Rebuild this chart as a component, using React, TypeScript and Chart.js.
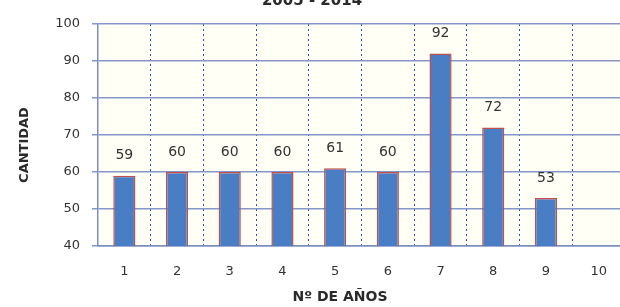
import React, { useEffect, useRef } from "react";
import { Chart, registerables } from "chart.js";

Chart.register(...registerables);

const categories = ["1", "2", "3", "4", "5", "6", "7", "8", "9", "10"];
const values: (number | null)[] = [59, 60, 60, 60, 61, 60, 92, 72, 53, null];
const yTicks = [40, 50, 60, 70, 80, 90, 100];
const titleText = "2005 - 2014";
const xTitle = "Nº DE AÑOS";
const yTitle = "CANTIDAD";

const FONT = "'DejaVu Sans', sans-serif";

const decor = {
  id: "decor",
  beforeDraw(chart: any) {
    const { ctx, chartArea } = chart;
    ctx.save();
    ctx.fillStyle = "#fffff6";
    ctx.fillRect(chartArea.left, chartArea.top, chartArea.right - chartArea.left, chartArea.bottom - chartArea.top);
    ctx.restore();
  },
  afterDraw(chart: any) {
    const { ctx } = chart;
    ctx.save();
    ctx.fillStyle = "#2a2a2a";
    ctx.textAlign = "center";
    ctx.textBaseline = "middle";
    ctx.font = `bold 15px ${FONT}`;
    ctx.fillText(titleText, 312, 1);
    ctx.font = `bold 14px ${FONT}`;
    ctx.fillText(xTitle, 340, 297);
    ctx.font = `bold 13px ${FONT}`;
    ctx.translate(25, 145);
    ctx.rotate(-Math.PI / 2);
    ctx.fillText(yTitle, 0, 0);
    ctx.restore();

    const meta = chart.getDatasetMeta(0);
    ctx.save();
    ctx.fillStyle = "#333";
    ctx.font = `14px ${FONT}`;
    ctx.textAlign = "center";
    ctx.textBaseline = "middle";
    meta.data.forEach((bar: any, i: number) => {
      const v = values[i];
      if (v == null) return;
      ctx.fillText(String(v), bar.x, bar.y - 20);
    });
    ctx.restore();
  },
};

export default function App() {
  const ref = useRef<HTMLCanvasElement>(null);
  useEffect(() => {
    if (!ref.current) return;
    const chart = new Chart(ref.current, {
      type: "bar",
      data: {
        labels: categories,
        datasets: [
          {
            data: values,
            backgroundColor: "#4a7ec4",
            borderColor: "#c0504d",
            borderWidth: 1.5,
            categoryPercentage: 1,
            barPercentage: 0.42,
          },
        ],
      },
      options: {
        responsive: false,
        animation: false,
        layout: { padding: { top: 24, right: 15, left: 0, bottom: 0 } },
        plugins: { legend: { display: false }, tooltip: { enabled: false }, title: { display: false } },
        scales: {
          x: {
            grid: {
              offset: true,
              color: "#2f4fa8",
              lineWidth: 1,
              drawTicks: false,
            },
            border: { display: true, color: "#7a8fc0", width: 1.5, dash: [2, 3] },
            ticks: { color: "#333", font: { family: FONT, size: 13 }, padding: 18 },
            afterFit(scale: any) {
              scale.height = 307 - 246;
            },
          },
          y: {
            min: 40,
            max: 100,
            afterBuildTicks(scale: any) {
              scale.ticks = yTicks.map((v) => ({ value: v }));
            },
            grid: { color: "#8497c8", lineWidth: 1.5, tickLength: 6 },
            border: { display: true, color: "#7a8fc0", width: 1.5 },
            ticks: { color: "#333", font: { family: FONT, size: 13 }, padding: 12 },
            afterFit(scale: any) {
              scale.width = 98;
            },
          },
        },
      },
      plugins: [decor],
    } as any);
    return () => chart.destroy();
  }, []);
  return (
    <div style={{ position: "fixed", left: 0, top: 0, width: 620, height: 307, overflow: "hidden", background: "#fff" }}>
      <canvas ref={ref} width={640} height={307} style={{ width: 640, height: 307, display: "block" }} />
    </div>
  );
}
